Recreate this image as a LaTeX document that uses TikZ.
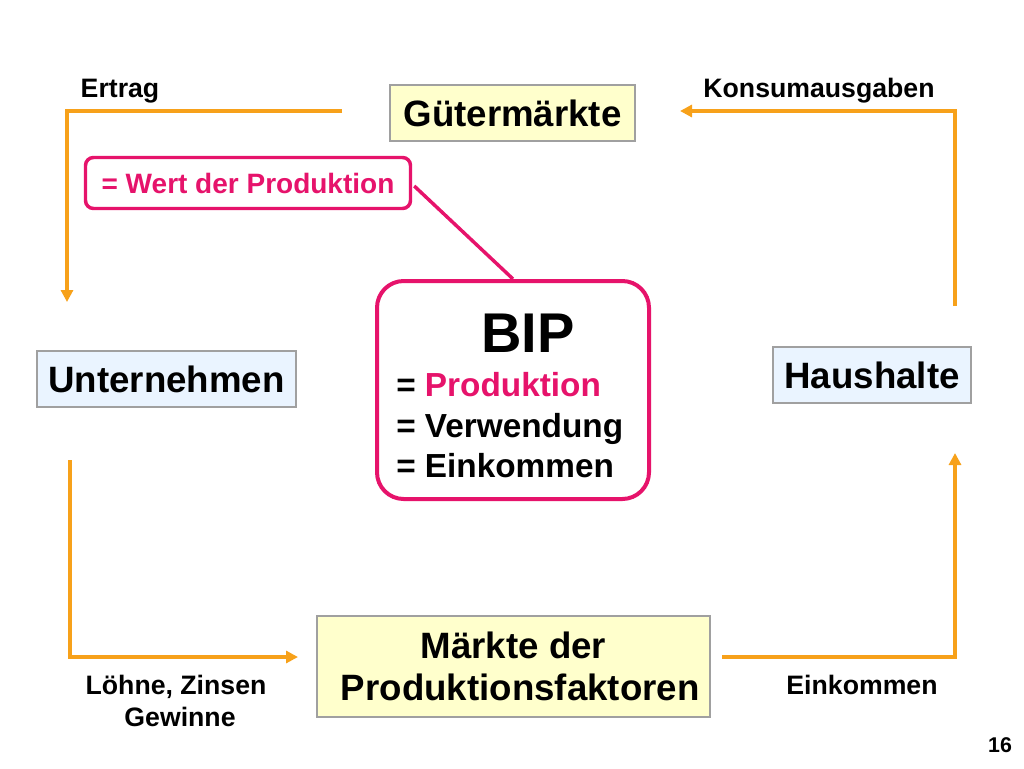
\documentclass[tikz,border=0pt]{standalone}
\usepackage{fontspec}
\setmainfont{Liberation Sans}
\usetikzlibrary{arrows.meta}
\definecolor{flow}{HTML}{F7A11A}
\definecolor{mag}{HTML}{E6136B}
\definecolor{ybox}{HTML}{FFFFCC}
\definecolor{bbox}{HTML}{EAF4FF}
\definecolor{gborder}{HTML}{A0A0A0}
\begin{document}
\begin{tikzpicture}[x=0.75pt,y=-0.75pt,
  boxtext/.style={font=\fontsize{27.5}{31}\selectfont\bfseries, inner sep=0pt, align=center},
  ybx/.style={draw=gborder, line width=0.9pt, fill=ybox, boxtext},
  bbx/.style={draw=gborder, line width=0.9pt, fill=bbox, boxtext},
  lbl/.style={font=\fontsize{20}{24}\selectfont\bfseries, inner sep=0pt, align=center},
  flowline/.style={draw=flow, line width=3pt, -{Triangle[length=9pt,width=9pt]}},
  magbox/.style={draw=mag, line width=3pt, fill=white}]
\useasboundingbox (0,0) rectangle (1024,768);
% boxes
\node[ybx, minimum width=245*0.75pt, minimum height=56*0.75pt] (gm) at (512.5,113) {Gütermärkte};
\node[bbx, minimum width=259*0.75pt, minimum height=56*0.75pt] (un) at (166.5,379) {Unternehmen};
\node[bbx, minimum width=198*0.75pt, minimum height=56*0.75pt] (hh) at (872,375) {Haushalte};
\node[ybx, minimum width=393*0.75pt, minimum height=101*0.75pt] (mp) at (513.5,666.5) {Märkte der\\\hspace*{10pt}Produktionsfaktoren};
% BIP box
\node[magbox, rounded corners=20pt, minimum width=272*0.75pt, minimum height=218*0.75pt] (bip) at (513,390) {};
\node[font=\fontsize{42}{48}\selectfont\bfseries, inner sep=0pt, anchor=base] (biptitle) at (528,352) {BIP};
\node[font=\fontsize{25}{30}\selectfont\bfseries, inner sep=0pt, anchor=base west] (l1) at (396,396) {= \textcolor{mag}{Produktion}};
\node[font=\fontsize{25}{30}\selectfont\bfseries, inner sep=0pt, anchor=base west] (l2) at (396,437) {= Verwendung};
\node[font=\fontsize{25}{30}\selectfont\bfseries, inner sep=0pt, anchor=base west] (l3) at (396,477) {= Einkommen};
% Wert box
\node[draw=mag, line width=2.6pt, rounded corners=6pt, fill=white, text=mag,
  font=\fontsize{21}{25}\selectfont\bfseries, inner sep=0pt,
  minimum width=325*0.75pt, minimum height=51*0.75pt] (wert) at (248,183) {= Wert der Produktion};
\draw[draw=mag, line width=2.6pt] (wert.east) ++(2,3) coordinate (wertc) -- (bip.north);
% flows
\coordinate (e0) at (342,111);
\coordinate (e1) at (67,111);
\coordinate (e2) at (67,302);
\draw[flowline] (e0) -- (e1) -- (e2);
\coordinate (k0) at (955,306);
\coordinate (k1) at (955,111);
\coordinate (k2) at (680,111);
\draw[flowline] (k0) -- (k1) -- (k2);
\coordinate (b0) at (70,460);
\coordinate (b1) at (70,657);
\coordinate (b2) at (298,657);
\draw[flowline] (b0) -- (b1) -- (b2);
\coordinate (r0) at (722,657);
\coordinate (r1) at (955,657);
\coordinate (r2) at (955,453);
\draw[flowline] (r0) -- (r1) -- (r2);
% labels
\node[lbl, anchor=base] (ertrag) at (120,97) {Ertrag};
\node[lbl, anchor=base] (konsum) at (819,97) {Konsumausgaben};
\node[lbl, anchor=base] (loehne) at (176,694) {Löhne, Zinsen};
\node[lbl, anchor=base] (gewinne) at (180,726) {Gewinne};
\node[lbl, anchor=base] (eink) at (862,694) {Einkommen};
\node[font=\fontsize{16}{20}\selectfont\bfseries, inner sep=0pt, anchor=base] (pg) at (1000,752) {16};
\end{tikzpicture}
\end{document}
